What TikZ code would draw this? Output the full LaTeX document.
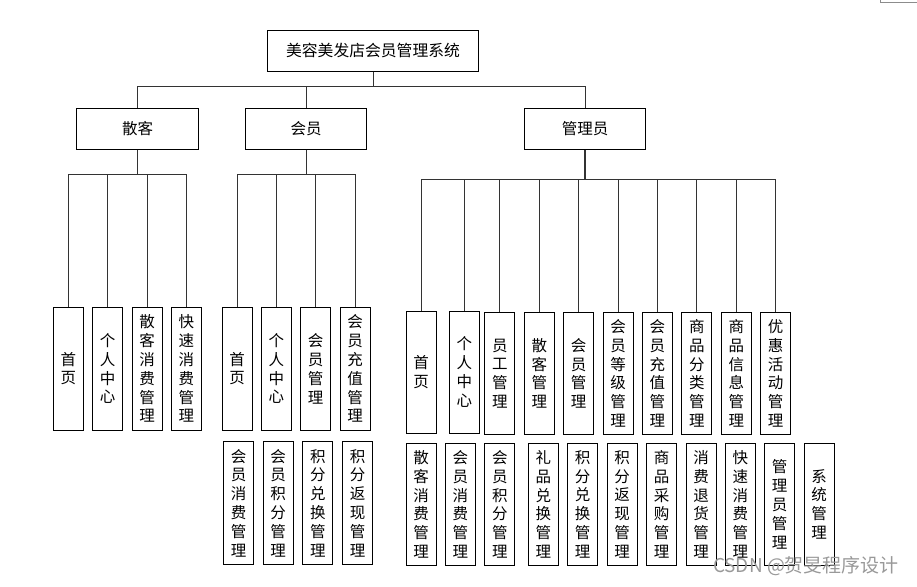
\documentclass[tikz,border=0pt]{standalone}
\usepackage{fontspec}
\newfontfamily\cjk{Noto Sans CJK SC}
\tikzset{
  box/.style={draw=black, line width=0.8pt, inner sep=0pt, align=center, fill=white,
    font=\cjk\fontsize{15.5}{18.8}\selectfont},
  leaf/.style={box, minimum width=30pt},
  conn/.style={draw=black!80, line width=0.8pt},
}
\begin{document}
\begin{tikzpicture}[x=1pt,y=-1pt]
\useasboundingbox (0,0) rectangle (917,586);
% top level
\node[box, minimum width=210.7pt, minimum height=41pt, font=\cjk\fontsize{15.8}{18.8}\selectfont] (root) at (373,50.7) {美容美发店会员管理系统};
\node[box, minimum width=121.3pt, minimum height=40.5pt] (sk) at (137.5,129) {散客};
\node[box, minimum width=121.4pt, minimum height=40.6pt] (hy) at (306,129) {会员};
\node[box, minimum width=121.4pt, minimum height=41pt] (gl) at (585,128.8) {管理员};
\coordinate (rb) at (373,86.7);
\draw[conn] (root.south) -- (rb);
\draw[conn] (rb) -| (sk.north);
\draw[conn] (rb) -| (hy.north);
\draw[conn] (rb) -| (gl.north);

% 散客 leaves
\begin{scope}[every node/.style={leaf, minimum height=122.7pt}]
\node (s1) at (68.3,368.65) {首\\页};
\node (s2) at (107.7,368.65) {个\\人\\中\\心};
\node (s3) at (147,368.65) {散\\客\\消\\费\\管\\理};
\node (s4) at (186.3,368.65) {快\\速\\消\\费\\管\\理};
% 会员 leaves
\node (m1) at (237,368.65) {首\\页};
\node (m2) at (276.3,368.65) {个\\人\\中\\心};
\node (m3) at (315.7,368.65) {会\\员\\管\\理};
\node (m4) at (355.2,368.65) {会\\员\\充\\值\\管\\理};
\end{scope}
\begin{scope}[every node/.style={leaf, minimum height=122.6pt}]
\node (m5) at (238.5,503) {会\\员\\消\\费\\管\\理};
\node (m6) at (278.2,503) {会\\员\\积\\分\\管\\理};
\node (m7) at (317.8,503) {积\\分\\兑\\换\\管\\理};
\node (m8) at (357.5,503) {积\\分\\返\\现\\管\\理};
\end{scope}
% admin row 1
\begin{scope}[every node/.style={leaf, minimum height=122.3pt}]
\node (a1) at (421,372.15) {首\\页};
\node (a2) at (464.3,372.15) {个\\人\\中\\心};
\end{scope}
\begin{scope}[every node/.style={leaf, minimum height=122.2pt}]
\node (a3) at (499.8,373.4) {员\\工\\管\\理};
\node (a4) at (539.3,373.4) {散\\客\\管\\理};
\node (a5) at (578.7,373.4) {会\\员\\管\\理};
\node (a6) at (618,373.4) {会\\员\\等\\级\\管\\理};
\node (a7) at (657.3,373.4) {会\\员\\充\\值\\管\\理};
\node (a8) at (696.8,373.4) {商\\品\\分\\类\\管\\理};
\node (a9) at (736.3,373.4) {商\\品\\信\\息\\管\\理};
\node (a10) at (775.7,373.4) {优\\惠\\活\\动\\管\\理};
\end{scope}
% admin row 2
\begin{scope}[every node/.style={leaf, minimum height=122pt}]
\node (b1) at (421,504.3) {散\\客\\消\\费\\管\\理};
\node (b2) at (460.3,504.3) {会\\员\\消\\费\\管\\理};
\node (b3) at (499.8,504.3) {会\\员\\积\\分\\管\\理};
\node (b4) at (543.3,504.3) {礼\\品\\兑\\换\\管\\理};
\node (b5) at (582.7,504.3) {积\\分\\兑\\换\\管\\理};
\node (b6) at (622,504.3) {积\\分\\返\\现\\管\\理};
\node (b7) at (661.7,504.3) {商\\品\\采\\购\\管\\理};
\node (b8) at (701,504.3) {消\\费\\退\\货\\管\\理};
\node (b9) at (740.3,504.3) {快\\速\\消\\费\\管\\理};
\node (b10) at (779.7,504.3) {管\\理\\员\\管\\理};
\node (b11) at (819,504.3) {系\\统\\管\\理};
\end{scope}

% connectors 散客
\coordinate (skb) at (137.5,174.3);
\draw[conn] (sk.south) -- (skb);
\foreach \n in {s1,s2,s3,s4} \draw[conn] (skb) -| (\n.north);
% connectors 会员
\coordinate (hyb) at (306,174.3);
\draw[conn] (hy.south) -- (hyb);
\foreach \n in {m1,m2,m3,m4} \draw[conn] (hyb) -| (\n.north);
% connectors 管理员
\coordinate (glb) at (585,179);
\draw[conn, line width=1.2pt] (gl.south) -- (glb);
\foreach \n in {a1,a2,a3,a4,a5,a6,a7,a8,a9,a10} \draw[conn] (glb) -| (\n.north);

% stray line top right
\draw[black!45, line width=0.8pt] (880,0) -- (880,2.3) -- (917,2.3);
% watermark
\node[text=black!40, inner sep=0pt, font=\cjk\fontsize{19}{21}\selectfont] (wm) at (806,566) {CSDN @贺旻程序设计};
\end{tikzpicture}
\end{document}
